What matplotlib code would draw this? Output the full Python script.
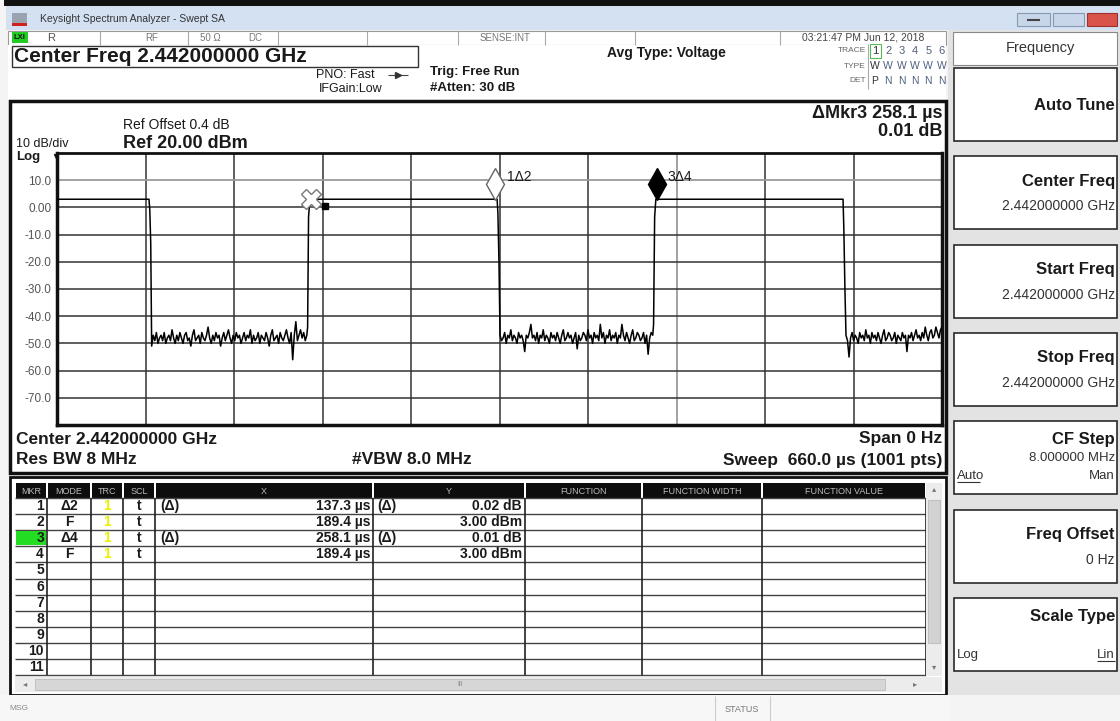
import numpy as np
import matplotlib.pyplot as plt
from matplotlib.patches import Rectangle
from matplotlib.transforms import ScaledTranslation

plt.rcParams['font.family'] = ['Liberation Sans', 'DejaVu Sans']

# ---- trace data (time in us, level in dBm) ----
sweep_time = 660.0
ref_level = 20.0
bottom_level = -80.0
on_level = 3.0

burst_on = [(0.0, 68.6), (188.6, 328.2), (446.6, 586.2)]
fall_t = [[69.2, 69.9], [328.8, 329.6], [586.8, 587.6]]
fall_db = [[-1.0, -13.0], [-2.0, -20.0], [-8.0, -30.0]]
rise_t = [[186.9, 187.6], [444.9, 445.7]]
rise_db = [[-44.0, -3.5], [-43.0, -3.5]]
noise_span = [(70.6, 186.3), (330.4, 444.3), (588.4, 660.0)]

noise1 = [-51, -47, -49, -46, -50, -48, -47, -49, -46, -50, -48, -47, -49, -45, -48, -50, -47, -49, -46, -48,
          -50, -47, -46, -49, -48, -51, -47, -45, -49, -48, -47, -50, -46, -48, -49, -47, -44, -48, -50, -47,
          -49, -46, -48, -47, -51, -48, -46, -49, -47, -45, -48, -50, -47, -49, -46, -48, -47, -50, -48, -46,
          -49, -47, -48, -45, -50, -47, -49, -48, -46, -50, -47, -48, -49, -46, -48, -51, -47, -45, -49, -48,
          -47, -50, -46, -48, -49, -47, -45, -48, -50, -46, -56, -47, -42, -49, -47, -45, -48, -46, -49, -47]
noise2 = [-47, -49, -48, -46, -50, -47, -48, -45, -49, -47, -48, -50, -46, -48, -47, -49, -53, -47, -48, -46,
          -43, -48, -47, -49, -46, -50, -47, -48, -45, -49, -47, -48, -50, -46, -48, -47, -49, -46, -48, -50,
          -47, -45, -49, -48, -46, -48, -47, -50, -48, -46, -52, -47, -49, -48, -46, -47, -49, -45, -48, -47,
          -50, -46, -48, -47, -49, -43, -48, -46, -50, -47, -48, -45, -49, -47, -48, -46, -50, -47, -48, -43,
          -47, -49, -46, -48, -50, -47, -45, -49, -48, -46, -47, -49, -48, -46, -50, -47, -54, -48, -46, -47]
noise3 = [-47, -49, -55, -48, -46, -49, -47, -48, -50, -46, -48, -47, -49, -45, -48, -47, -50, -46, -48, -47,
          -49, -46, -48, -50, -47, -45, -49, -48, -46, -47, -49, -48, -46, -50, -47, -48, -49, -46, -48, -47,
          -53, -47, -48, -46, -49, -47, -45, -48, -47, -49, -46, -48, -44, -47, -49, -46, -45, -48, -47, -44,
          -46, -48, -45, -44]
noise = [noise1, noise2, noise3]

y_ticks = [20, 10, 0, -10, -20, -30, -40, -50, -60, -70, -80]
y_labels = ['', '10.0', '0.00', '-10.0', '-20.0', '-30.0', '-40.0', '-50.0', '-60.0', '-70.0', '']

# markers: 2 and 4 fixed, 1 and 3 delta
mkr2_t, mkr2_db = 189.4, 3.00
mkr4_t, mkr4_db = 189.4, 3.00
mkr1_dt, mkr1_ddb = 137.3, 0.02
mkr3_dt, mkr3_ddb = 258.1, 0.01

# marker table
tbl_mode = ['Δ2', 'F', 'Δ4', 'F']
tbl_trc = ['1', '1', '1', '1']
tbl_scl = ['t', 't', 't', 't']
tbl_xref = ['(Δ)', '', '(Δ)', '']
tbl_x = ['137.3 µs', '189.4 µs', '258.1 µs', '189.4 µs']
tbl_yref = ['(Δ)', '', '(Δ)', '']
tbl_y = ['0.02 dB', '3.00 dBm', '0.01 dB', '3.00 dBm']
tbl_headers = ['MKR', 'MODE', 'TRC', 'SCL', 'X', 'Y', 'FUNCTION', 'FUNCTION WIDTH', 'FUNCTION VALUE']

# softkeys
key_titles = ['Auto Tune', 'Center Freq', 'Start Freq', 'Stop Freq', 'CF Step', 'Freq Offset', 'Scale Type']
key_values = ['', '2.442000000 GHz', '2.442000000 GHz', '2.442000000 GHz', '8.000000 MHz', '0 Hz', '']

INK = '#1a1a1a'

fig = plt.figure(figsize=(11.2, 7.21), dpi=100)
ui = fig.add_axes([0, 0, 1, 1])
ui.set_xlim(0, 1120)
ui.set_ylim(721, 0)
ui.axis('off')


def box(x0, y0, x1, y1, fc='white', ec='none', lw=1.0, z=1):
    ui.add_patch(Rectangle((x0, y0), x1 - x0, y1 - y0, facecolor=fc,
                           edgecolor=ec, linewidth=lw, zorder=z))


def label(x, y, s, size=9, weight='normal', ha='left', color=INK, z=5):
    ui.text(x, y, s, fontsize=size, fontweight=weight, ha=ha, va='center',
            color=color, zorder=z)


def hline(y, x0, x1, color='#333333', lw=1.0, z=3):
    ui.plot([x0, x1], [y, y], color=color, lw=lw, zorder=z, solid_capstyle='butt')


def vline(x, y0, y1, color='#333333', lw=1.0, z=3):
    ui.plot([x, x], [y0, y1], color=color, lw=lw, zorder=z, solid_capstyle='butt')


# window chrome
box(0, 0, 1120, 721, fc='#f4f4f4')
box(4, 0, 1120, 6, fc='#111111')
box(6, 6, 1120, 30, fc='#d3e1f2')
box(12, 13, 27, 25, fc='#9aa4b0')
box(12, 23, 27, 26, fc='#d02020')
label(40, 19, 'Keysight Spectrum Analyzer - Swept SA', size=7.5, color='#333333')
box(1017, 13, 1050, 26, fc='#c8d6ea', ec='#8899b0', lw=0.8)
box(1053, 13, 1084, 26, fc='#c8d6ea', ec='#8899b0', lw=0.8)
box(1087, 13, 1117, 26, fc='#d9534a', ec='#a03030', lw=0.8)
hline(20, 1027, 1040, color='#444444', lw=1.5, z=4)

# status row
box(8, 31, 946, 45, fc='white', ec='#999999', lw=0.8)
for xd in [100, 188, 278, 367, 458, 545, 635, 780]:
    vline(xd, 31, 45, color='#aaaaaa', lw=0.8)
box(12, 32, 28, 43, fc='#22cc22', z=2)
label(13, 37.5, 'LXI', size=5.5, weight='bold', color='#111111')
label(47, 38, 'R', size=8, color='#555555')
label(145, 38, 'RF', size=7, color='#777777')
label(200, 38, '50 Ω', size=7, color='#777777')
label(248, 38, 'DC', size=7, color='#777777')
label(480, 38, 'SENSE:INT', size=7, color='#777777')
label(863, 38, '03:21:47 PM Jun 12, 2018', size=7.5, ha='center', color='#444444')

# setting header
box(8, 45, 946, 100, fc='white')
box(12, 46, 418, 67, fc='white', ec='#333333', lw=1.0, z=2)
label(14, 57, 'Center Freq 2.442000000 GHz', size=15, weight='bold')
label(375, 75, 'PNO: Fast', size=9, ha='right')
label(382, 89, 'IFGain:Low', size=9, ha='right')
hline(74.5, 388, 408, color='#444444', lw=0.8)
ui.plot([398], [74.5], marker='>', color='#333333', ms=4, zorder=4)
label(430, 72, 'Trig: Free Run', size=9.5, weight='bold')
label(430, 88, '#Atten: 30 dB', size=9.5, weight='bold')
label(607, 53, 'Avg Type: Voltage', size=10, weight='bold')
label(866, 50, 'TRACE', size=6, ha='right', color='#666666')
label(866, 66, 'TYPE', size=6, ha='right', color='#666666')
label(866, 81, 'DET', size=6, ha='right', color='#666666')
vline(868, 44, 89, color='#aaaaaa', lw=0.8)
for i in range(6):
    xc = 875 + i * 13.3
    clr = '#333333' if i == 0 else '#50607e'
    label(xc, 51, str(i + 1), size=8, ha='center', color=clr)
    label(xc, 66, 'W', size=7.5, ha='center', color=clr)
    label(xc, 81, 'P' if i == 0 else 'N', size=7.5, ha='center', color=clr)
box(870, 44, 881, 58, fc='none', ec='#55bb55', lw=0.8, z=4)

# plot panel
box(10, 101, 946, 473, fc='white', ec='#111111', lw=2.5, z=2)
label(123, 125, 'Ref Offset 0.4 dB', size=10)
label(123, 143, 'Ref 20.00 dBm', size=13, weight='bold')
label(16, 144, '10 dB/div', size=9)
label(16, 157, 'Log', size=9.5, weight='bold')
ui.plot([57], [157], marker='v', color='#111111', ms=5, zorder=6)
label(942, 113, 'ΔMkr3 258.1 µs', size=13, weight='bold', ha='right')
label(942, 131, '0.01 dB', size=13, weight='bold', ha='right')
label(16, 439, 'Center 2.442000000 GHz', size=12.5, weight='bold')
label(16, 460, 'Res BW 8 MHz', size=12.5, weight='bold')
label(352, 460, '#VBW 8.0 MHz', size=12.5, weight='bold')
label(942, 439, 'Span 0 Hz', size=12.5, weight='bold', ha='right')
label(942, 460, 'Sweep  660.0 µs (1001 pts)', size=12.5, weight='bold', ha='right')

# marker table
box(10, 477, 946, 695, fc='white', ec='#111111', lw=2.0, z=2)
cols = [15, 47, 91, 123, 155, 373, 525, 642, 762, 926]
for i, h in enumerate(tbl_headers):
    box(cols[i] + 1, 483, cols[i + 1] - 1, 498, fc='#0d0d0d', z=3)
    label((cols[i] + cols[i + 1]) / 2, 491, h, size=6.5, ha='center', color='#bbbbbb')
row_h = 16.1
row_top = 498
for r in range(12):
    hline(row_top + r * row_h, 15, 926, color='#444444', lw=1.0)
for xc in cols[1:]:
    vline(xc, 498, row_top + 11 * row_h, color='#222222', lw=1.2)
box(16, row_top + 2 * row_h + 1, 46, row_top + 3 * row_h - 1, fc='#22dd22', z=3)
for r in range(11):
    yc = row_top + (r + 0.5) * row_h
    label(44, yc, str(r + 1), size=10, weight='bold', ha='right')
    if r < len(tbl_mode):
        label(69, yc, tbl_mode[r], size=10, weight='bold', ha='center')
        label(107, yc, tbl_trc[r], size=10, weight='bold', ha='center', color='#eeee00')
        label(139, yc, tbl_scl[r], size=10, weight='bold', ha='center')
        label(160, yc, tbl_xref[r], size=10, weight='bold')
        label(370, yc, tbl_x[r], size=10, weight='bold', ha='right')
        label(377, yc, tbl_yref[r], size=10, weight='bold')
        label(522, yc, tbl_y[r], size=10, weight='bold', ha='right')
# scrollbars
box(926, 483, 942, 676, fc='#ececec', z=3)
box(928, 500, 940, 643, fc='#d2d2d2', ec='#bbbbbb', lw=0.6, z=4)
label(934, 490, '▴', size=6, ha='center', color='#777777')
label(934, 668, '▾', size=6, ha='center', color='#777777')
box(15, 677, 942, 692, fc='#ececec', z=3)
box(35, 679, 885, 690, fc='#d6d6d6', ec='#bbbbbb', lw=0.6, z=4)
label(25, 685, '◂', size=6, ha='center', color='#777777')
label(915, 685, '▸', size=6, ha='center', color='#777777')
label(460, 685, 'III', size=5, ha='center', color='#888888')

# message bar
box(0, 695, 950, 721, fc='#f7f7f7', z=2)
label(9, 709, 'MSG', size=6, color='#888888')
vline(715, 696, 721, color='#cccccc', lw=0.8)
vline(770, 696, 721, color='#cccccc', lw=0.8)
label(742, 709, 'STATUS', size=6.5, ha='center', color='#777777')

# softkey panel
box(948, 30, 1120, 695, fc='#e3e3e3')
box(953, 32, 1117, 65, fc='white', ec='#888888', lw=0.8, z=2)
label(1040, 48, 'Frequency', size=10.5, ha='center', color='#333333')
for k, title in enumerate(key_titles):
    top = 68 + k * 88.3
    box(954, top, 1117, top + 73, fc='white', ec='#2a2a2a', lw=1.2, z=2)
    if title == 'Auto Tune':
        label(1115, top + 38, title, size=12, weight='bold', ha='right')
    elif title == 'CF Step':
        label(1115, top + 18, title, size=12, weight='bold', ha='right')
        label(1115, top + 37, key_values[k], size=9.5, ha='right', color='#333333')
        label(957, top + 55, 'Auto', size=9.5, color='#333333')
        hline(top + 61, 957, 980, color='#333333', lw=0.8, z=5)
        label(1115, top + 55, 'Man', size=9.5, ha='right', color='#333333')
    elif title == 'Scale Type':
        label(1115, top + 19, title, size=12, weight='bold', ha='right')
        label(957, top + 57, 'Log', size=9.5, color='#333333')
        label(1115, top + 57, 'Lin', size=9.5, ha='right', color='#333333')
        hline(top + 63, 1097, 1115, color='#333333', lw=0.8, z=5)
    else:
        label(1115, top + 25, title, size=12, weight='bold', ha='right')
        label(1115, top + 50, key_values[k], size=10, ha='right', color='#333333')

# ---- trace plot ----
t, lvl = [], []
for i in range(3):
    t += list(burst_on[i])
    lvl += [on_level, on_level]
    t += fall_t[i]
    lvl += fall_db[i]
    n0, n1 = noise_span[i]
    t += list(np.linspace(n0, n1, len(noise[i])))
    lvl += noise[i]
    if i < 2:
        t += rise_t[i]
        lvl += rise_db[i]

ax = fig.add_axes([57 / 1120, 1 - 425 / 721, 885 / 1120, 272 / 721])
ax.set_xlim(0, sweep_time)
ax.set_ylim(bottom_level, ref_level)
ax.set_facecolor('white')
ax.set_xticks(np.arange(0, sweep_time + 1, sweep_time / 10))
ax.set_xticklabels([])
ax.set_yticks(y_ticks)
ax.set_yticklabels(y_labels)
ax.tick_params(length=0, pad=4, labelsize=8.5, labelcolor='#555555')
for xv in ax.get_xticks()[1:-1]:
    c = '#9a9a9a' if abs(xv - 462) < 1 else '#333333'
    ax.axvline(xv, color=c, lw=1.3 if c != '#333333' else 1.1, zorder=1)
for yv in y_ticks[1:-1]:
    c = '#9a9a9a' if yv == 10 else '#333333'
    ax.axhline(yv, color=c, lw=1.3 if c != '#333333' else 1.1, zorder=1)
for side, w in [('left', 2.5), ('bottom', 2.5), ('right', 2.5), ('top', 2.0)]:
    ax.spines[side].set_linewidth(w)
    ax.spines[side].set_color('#111111')

ax.plot(t, lvl, color='black', lw=1.1, zorder=3)

# markers sit just above the trace point
lift = ScaledTranslation(0, 15 / 100, fig.dpi_scale_trans)
mkr1_t = mkr2_t + mkr1_dt
mkr3_t = mkr4_t + mkr3_dt
ax.plot([mkr1_t], [mkr2_db + mkr1_ddb], marker='d', ms=16, mfc='white', mec='#666666',
        mew=1.0, transform=ax.transData + lift, zorder=5, clip_on=False)
ax.plot([mkr3_t], [mkr4_db + mkr3_ddb], marker='d', ms=16, mfc='black', mec='black',
        transform=ax.transData + lift, zorder=5, clip_on=False)
ax.plot([mkr2_t], [mkr2_db], marker='X', ms=15, mfc='white', mec='#777777', mew=1.0, zorder=5)
ax.plot([mkr4_t], [mkr4_db], marker='s', ms=4.5, color='black',
        transform=ax.transData + ScaledTranslation(14 / 100, -7 / 100, fig.dpi_scale_trans), zorder=6)
ax.annotate('1Δ2', (mkr1_t, mkr2_db + mkr1_ddb), xytext=(8.5, 16), textcoords='offset points',
            fontsize=10, va='center', color=INK)
ax.annotate('3Δ4', (mkr3_t, mkr4_db + mkr3_ddb), xytext=(7.5, 16), textcoords='offset points',
            fontsize=10, va='center', color=INK)

fig.savefig('out.png', dpi=100)
